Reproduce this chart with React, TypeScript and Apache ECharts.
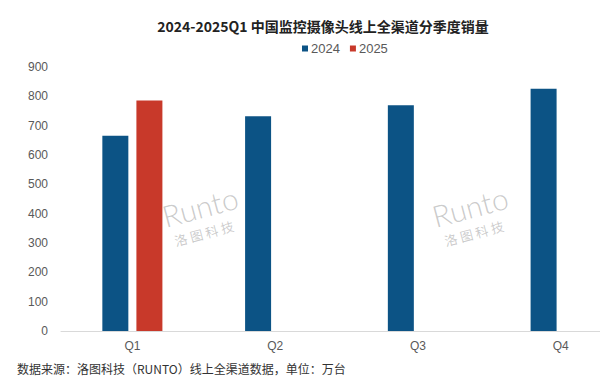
import React, { useEffect, useRef } from "react";
import * as echarts from "echarts";

const categories = ["Q1", "Q2", "Q3", "Q4"];
const series2024 = [666, 732, 770, 826];
const series2025: (number | null)[] = [786, null, null, null];
const titleText = "2024-2025Q1 中国监控摄像头线上全渠道分季度销量";
const footerText = "数据来源：洛图科技（RUNTO）线上全渠道数据，单位：万台";

export default function App() {
  const ref = useRef<HTMLDivElement>(null);
  useEffect(() => {
    if (!ref.current) return;
    const chart = echarts.init(ref.current, undefined, { renderer: "svg" });
    const wm = (cx: number, cy: number) => ({
      type: "group",
      x: cx,
      y: cy,
      rotation: 0.26,
      silent: true,
      z: 100,
      children: [
        {
          type: "text",
          x: 0,
          y: -12,
          style: {
            text: "Runto",
            font: "300 30px Lato",
            fill: "rgba(140,140,140,0.45)",
            align: "center",
            verticalAlign: "middle",
          },
        },
        {
          type: "text",
          x: -3,
          y: 15,
          style: {
            text: "洛 图 科 技",
            font: "13px 'Noto Sans CJK SC'",
            fill: "rgba(140,140,140,0.45)",
            align: "center",
            verticalAlign: "middle",
          },
        },
      ],
    });
    chart.setOption({
      animation: false,
      backgroundColor: "#ffffff",
      title: {
        text: titleText,
        left: 318,
        textAlign: "center",
        top: 14,
        textStyle: {
          fontSize: 14,
          fontWeight: "bold",
          color: "#222222",
          fontFamily: "'Noto Sans CJK SC', 'Noto Sans', sans-serif",
        },
      },
      legend: {
        left: 297,
        top: 37,
        icon: "rect",
        itemWidth: 6,
        itemHeight: 6,
        itemGap: 10,
        textStyle: { fontSize: 13, color: "#595959", padding: [0, 0, 0, -2] },
        data: ["2024", "2025"],
      },
      grid: { left: 61, right: 0, top: 67, bottom: 55, containLabel: false },
      xAxis: {
        type: "category",
        data: categories,
        axisLine: { lineStyle: { color: "#d9d9d9" } },
        axisTick: { show: false },
        axisLabel: { color: "#595959", fontSize: 12, margin: 9 },
      },
      yAxis: {
        type: "value",
        min: 0,
        max: 900,
        interval: 100,
        splitLine: { show: false },
        axisLine: { show: false },
        axisTick: { show: false },
        axisLabel: { color: "#595959", fontSize: 12, margin: 13 },
      },
      series: [
        {
          name: "2024",
          type: "bar",
          data: series2024,
          barWidth: 26,
          barGap: "31%",
          itemStyle: { color: "#0c5385" },
        },
        {
          name: "2025",
          type: "bar",
          data: series2025,
          barWidth: 26,
          itemStyle: { color: "#c8392a" },
        },
      ],
      graphic: [
        wm(203, 218),
        wm(473, 218),
        {
          type: "text",
          left: 17,
          top: 362,
          style: {
            text: footerText,
            font: "12px 'Noto Sans CJK SC'",
            fill: "#333333",
          },
        },
      ],
    });
    return () => chart.dispose();
  }, []);
  return (
    <div style={{ width: 600, height: 386, position: "absolute", left: 0, top: 0, overflow: "hidden" }}>
      <div ref={ref} style={{ width: 632, height: 386 }} />
    </div>
  );
}
